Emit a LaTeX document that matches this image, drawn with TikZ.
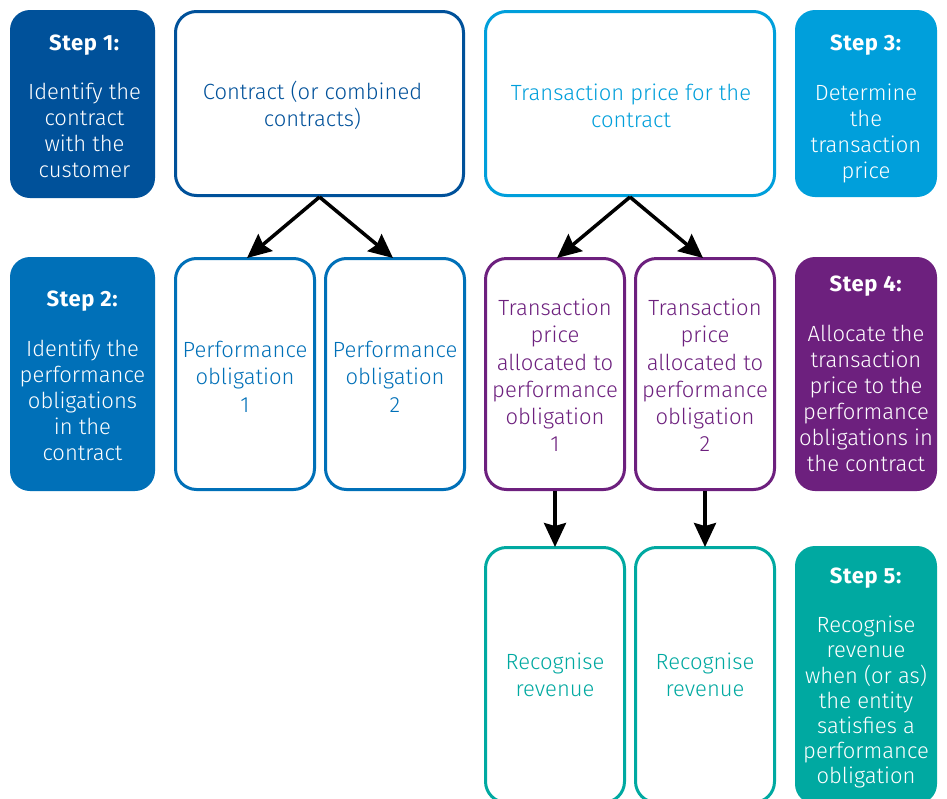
\documentclass[tikz,border=0pt]{standalone}
\usepackage{fontspec}
\setmainfont{Fira Sans Light}[BoldFont={Fira Sans Bold}, BoldFeatures={LetterSpace=3}]
\usetikzlibrary{arrows.meta}
\definecolor{cA}{RGB}{0,81,154}
\definecolor{cB}{RGB}{0,112,184}
\definecolor{cC}{RGB}{0,159,219}
\definecolor{cD}{RGB}{109,32,126}
\definecolor{cE}{RGB}{0,169,161}
\begin{document}
\begin{tikzpicture}[x=1pt,y=-1pt,
 stepbox/.style={rounded corners=20pt, draw=none, text=white, align=center, inner sep=0pt, font=\fontsize{22}{26}\selectfont},
 outbox/.style={rounded corners=21pt, draw, line width=3pt, fill=white, align=center, inner sep=0pt, font=\fontsize{22}{27.2}\selectfont},
 conn/.style={line width=3.5pt, -{Stealth[width=22pt,length=24pt,inset=3pt]}}]
\useasboundingbox (0,0) rectangle (947,798);
\begin{scope}
\clip (0,0) rectangle (947,798);
% step boxes
\node[stepbox, fill=cA, minimum width=145pt, minimum height=188pt] (s1) at (82.5,104) {};
\node[text=white, align=center, inner sep=0pt, font=\fontsize{22}{26}\selectfont] (s1t) at (84.5,106)
  {\textbf{Step 1:}\\[23pt]Identify the\\contract\\with the\\customer};
\node[stepbox, fill=cB, minimum width=145pt, minimum height=234pt] (s2) at (82.5,374) {};
\node[text=white, align=center, inner sep=0pt, font=\fontsize{22}{26}\selectfont] (s2t) at (82.5,375.5)
  {\textbf{Step 2:}\\[24pt]Identify the\\performance\\obligations\\in the\\contract};
\node[stepbox, fill=cC, minimum width=142pt, minimum height=187pt] (s3) at (866,103.5) {};
\node[text=white, align=center, inner sep=0pt, font=\fontsize{22}{26}\selectfont] (s3t) at (866,108.5)
  {\textbf{Step 3:}\\[24pt]Determine\\the\\transaction\\price};
\node[stepbox, fill=cD, minimum width=142pt, minimum height=234pt] (s4) at (866,374) {};
\node[text=white, align=center, inner sep=0pt, font=\fontsize{22}{26}\selectfont] (s4t) at (866,374)
  {\textbf{Step 4:}\\[24pt]Allocate the\\transaction\\price to the\\performance\\obligations in\\the contract};
\node[stepbox, fill=cE, minimum width=142pt, minimum height=258pt] (s5) at (866,675) {};
\node[text=white, align=center, inner sep=0pt, font=\fontsize{22}{25.1}\selectfont] (s5t) at (866,678)
  {\textbf{Step 5:}\\[24pt]Recognise\\revenue\\when (or as)\\the entity\\satisfies a\\performance\\obligation};
% outline boxes
\node[outbox, draw=cA, minimum width=288pt, minimum height=184pt] (con) at (319.5,103.5) {};
\node[text=cA, align=center, inner sep=0pt, font=\fontsize{22}{27.2}\selectfont] (cont) at (312.5,105.5)
  {Contract (or combined\\contracts)};
\node[outbox, draw=cC, minimum width=289pt, minimum height=184pt] (tp) at (630,103.5) {};
\node[text=cC, align=center, inner sep=0pt, font=\fontsize{22}{27.2}\selectfont] (tpt) at (631,105.5)
  {Transaction price for the\\contract};
\node[outbox, draw=cB, minimum width=139pt, minimum height=231pt] (po1) at (245,374) {};
\node[text=cB, align=center, inner sep=0pt, font=\fontsize{22}{27.4}\selectfont] (po1t) at (245,376.5)
  {Performance\\obligation\\1};
\node[outbox, draw=cB, minimum width=139pt, minimum height=231pt] (po2) at (395,374) {};
\node[text=cB, align=center, inner sep=0pt, font=\fontsize{22}{27.4}\selectfont] (po2t) at (395,376.5)
  {Performance\\obligation\\2};
\node[outbox, draw=cD, minimum width=139pt, minimum height=231pt] (tp1) at (555,374) {};
\node[text=cD, align=center, inner sep=0pt, font=\fontsize{22}{27.2}\selectfont] (tp1t) at (555,375.5)
  {Transaction\\price\\allocated to\\performance\\obligation\\1};
\node[outbox, draw=cD, minimum width=139pt, minimum height=231pt] (tp2) at (705,374) {};
\node[text=cD, align=center, inner sep=0pt, font=\fontsize{22}{27.2}\selectfont] (tp2t) at (705,375.5)
  {Transaction\\price\\allocated to\\performance\\obligation\\2};
\node[outbox, draw=cE, text=cE, minimum width=139pt, minimum height=255pt] (rr1) at (555,675)
  {Recognise\\revenue};
\node[outbox, draw=cE, text=cE, minimum width=139pt, minimum height=255pt] (rr2) at (705,675)
  {Recognise\\revenue};
% connectors
\draw[conn] (con.south) -- ([xshift=2pt,yshift=-1pt]po1.north);
\draw[conn] (con.south) -- ([xshift=-2pt,yshift=-1pt]po2.north);
\draw[conn] (tp.south) -- ([xshift=2pt,yshift=-1pt]tp1.north);
\draw[conn] (tp.south) -- ([xshift=-2pt,yshift=-1pt]tp2.north);
\draw[conn] (tp1.south) -- ([yshift=-1pt]rr1.north);
\draw[conn] (tp2.south) -- ([yshift=-1pt]rr2.north);
\end{scope}
\end{tikzpicture}
\end{document}
